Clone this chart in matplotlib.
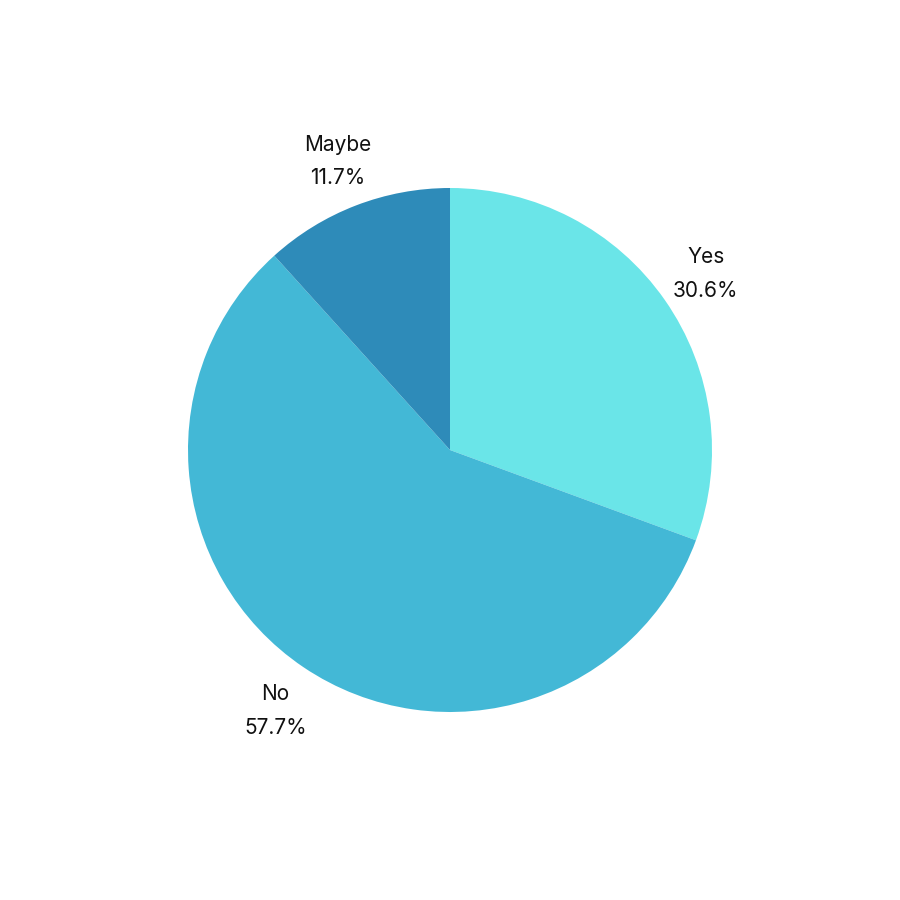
import matplotlib.pyplot as plt
import numpy as np

labels = ['Yes', 'No', 'Maybe']
values = [30.6, 57.7, 11.7]
colors = ['#6ae5e8', '#43b8d6', '#2e8bb9']

plt.rcParams['font.family'] = ['Inter', 'DejaVu Sans']

fig = plt.figure(figsize=(9, 9), dpi=100)
ax = fig.add_axes([0, 0, 1, 1])

wedges, _ = ax.pie(values, colors=colors, startangle=90, counterclock=False,
                   radius=1.0, wedgeprops={'linewidth': 0})

# etiquetas: nome em cima, percentagem em baixo
for w, nome, v in zip(wedges, labels, values):
    ang = np.deg2rad((w.theta1 + w.theta2) / 2)
    x = 1.19 * np.cos(ang)
    y = 1.19 * np.sin(ang) - 0.01
    ax.text(x, y, f'{nome}\n{v}%', ha='center', va='center',
            fontsize=15, color='#111111', linespacing=1.85)

lim = 450 / 262
ax.set_xlim(-lim, lim)
ax.set_ylim(-lim, lim)
ax.set_aspect('equal')
ax.axis('off')

fig.savefig('out.png', dpi=100, facecolor='white')
